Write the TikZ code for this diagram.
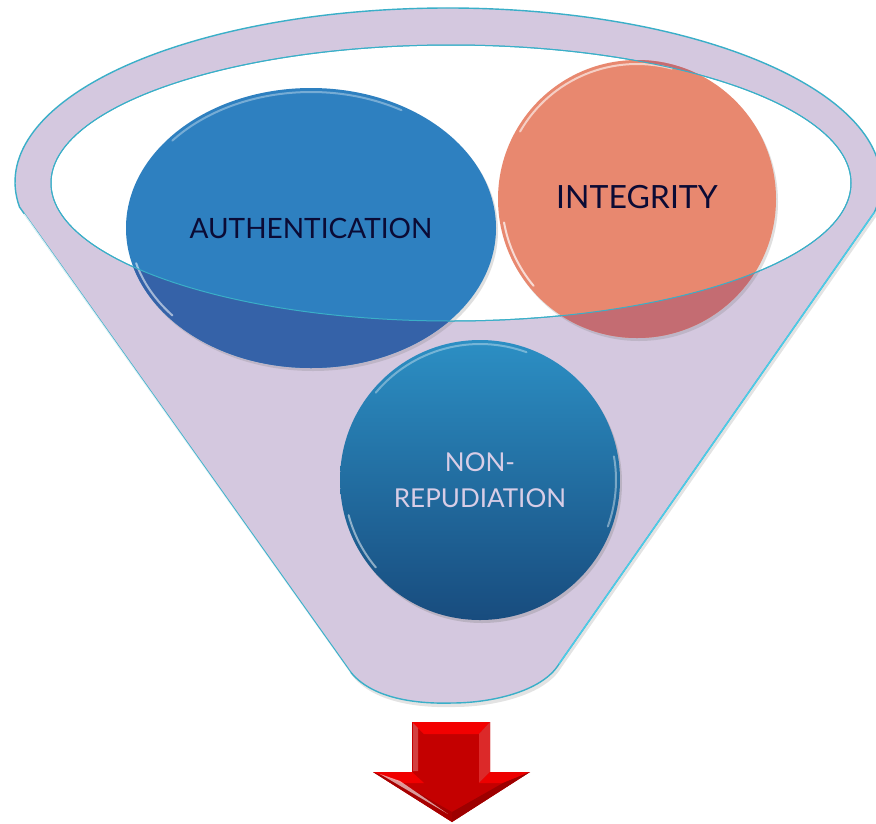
\documentclass[tikz,border=0pt]{standalone}
\usepackage{fontspec}
\setmainfont{Lato}
\usetikzlibrary{shapes.geometric,shadows}
\definecolor{lav}{HTML}{D4C8DF}
\definecolor{rimline}{HTML}{3AAFC8}
\definecolor{rimbright}{HTML}{4CCCE8}
\definecolor{authblue}{HTML}{2E80C0}
\definecolor{authdark}{HTML}{3562A8}
\definecolor{salmon}{HTML}{E8886F}
\definecolor{salmondark}{HTML}{C46C72}
\definecolor{nrtop}{HTML}{2C8FC4}
\definecolor{nrbot}{HTML}{184C7E}
\definecolor{navy}{HTML}{0B0B35}
\definecolor{nrtext}{HTML}{D8CDE6}
\definecolor{arrowred}{HTML}{C40000}
\tikzset{
  rimedge/.style={draw=rimline, line width=1.4pt},
  bubble/.style={inner sep=0pt, text=navy, font=\fontsize{28}{34}\selectfont},
  gloss/.style={white, line width=2pt, opacity=0.35, line cap=round},
}
\begin{document}
\begin{tikzpicture}[x=1pt,y=-1pt]
\useasboundingbox (0,0) rectangle (876,823);
% funnel body
\path[fill=lav, rimedge, drop shadow={opacity=0.22, shadow xshift=2pt, shadow yshift=-4pt}]
  (19.5,207) -- (347,667) .. controls (368,700) and (420,704) .. (452,703)
  .. controls (490,703) and (542,692) .. (559,664) -- (874.42,212.21)
  arc[start angle=10, end angle=-188.26, x radius=433, y radius=174] -- cycle;
% brighter right edge and white inner highlight along the rim edge
\draw[rimbright, line width=1.4pt] (559,664) -- (874.42,212.21);
\draw[white, line width=1.2pt, opacity=0.8] (24,214) -- (350,673);
% opening
\fill[white] (451,183) ellipse[x radius=400, y radius=138];
\draw[rimline, line width=1pt] (451,183) ellipse[x radius=400, y radius=138];
% bubbles
\node[bubble, ellipse, minimum width=370pt, minimum height=280pt, fill=authblue,
      drop shadow={opacity=0.25, shadow xshift=2pt, shadow yshift=-3pt}] (auth) at (311,228) {};
\node[bubble, circle, minimum size=278pt, fill=salmon,
      drop shadow={opacity=0.25, shadow xshift=2pt, shadow yshift=-3pt}] (integ) at (637,199) {};
\node[bubble, circle, minimum size=280pt, top color=nrtop, bottom color=nrbot,
      drop shadow={opacity=0.3, shadow xshift=2pt, shadow yshift=-3pt}] (nonrep) at (480,480) {};
% darker parts of the bubbles seen through the funnel wall
\begin{scope}
  \clip (311,228) ellipse[x radius=185, y radius=140];
  \fill[authdark, even odd rule] (0,0) rectangle (876,823) (451,183) ellipse[x radius=400, y radius=138];
\end{scope}
\begin{scope}
  \clip (637,199) circle[radius=139];
  \fill[salmondark, even odd rule] (0,0) rectangle (876,823) (451,183) ellipse[x radius=400, y radius=138];
\end{scope}
% gloss highlights
\draw[gloss] (311,228) ++(-140:181 and 136) arc[start angle=-140, end angle=-60, x radius=181, y radius=136];
\draw[gloss, opacity=0.55] (311,228) ++(140:181 and 136) arc[start angle=140, end angle=165, x radius=181, y radius=136];
\draw[gloss, opacity=0.6] (637,199) ++(-150:135) arc[start angle=-150, end angle=-75, radius=135];
\draw[gloss, opacity=0.7] (637,199) ++(140:135) arc[start angle=140, end angle=170, radius=135];
\draw[gloss] (480,480) ++(-140:136) arc[start angle=-140, end angle=-70, radius=136];
\draw[gloss, opacity=0.5] (480,480) ++(140:136) arc[start angle=140, end angle=165, radius=136];
\draw[gloss, opacity=0.4] (480,480) ++(-10:136) arc[start angle=-10, end angle=20, radius=136];
% rim line of the opening over the bubbles
\draw[rimline, line width=1pt] (451,183) ellipse[x radius=400, y radius=138];
% labels
\node[bubble] at (auth.center) {AUTHENTICATION};
\node[bubble, font=\fontsize{32}{38}\selectfont] at ([yshift=2pt]integ.center) {INTEGRITY};
\node[bubble, text=nrtext, align=center, font=\fontsize{26}{36}\selectfont] at (nonrep.center) {NON-\\REPUDIATION};
% red arrow
\fill[arrowred] (412,722) -- (490,722) -- (490,772) -- (530,772) -- (452,822) -- (373,772) -- (412,772) -- cycle;
\fill[red!80!arrowred] (412,722) -- (490,722) -- (479,734) -- (424,734) -- cycle;
\fill[red!60!white!40!arrowred] (490,722) -- (490,772) -- (479,783) -- (479,734) -- cycle;
\fill[red!75!arrowred] (373,772) -- (412,772) -- (424,783) -- (401,783) -- cycle;
\fill[red!70!arrowred] (490,772) -- (530,772) -- (503,783) -- (479,783) -- cycle;
\fill[arrowred!80!black] (530,772) -- (452,822) -- (452,812) -- (503,783) -- cycle;
\fill[arrowred!85!black] (373,772) -- (452,822) -- (452,812) -- (401,783) -- cycle;
\fill[white, opacity=0.6] (380,774) -- (400,781) -- (448,814) -- cycle;
\fill[white, opacity=0.25] (413,723) -- (418,728) -- (418,771) -- (413,771) -- cycle;
\end{tikzpicture}
\end{document}
